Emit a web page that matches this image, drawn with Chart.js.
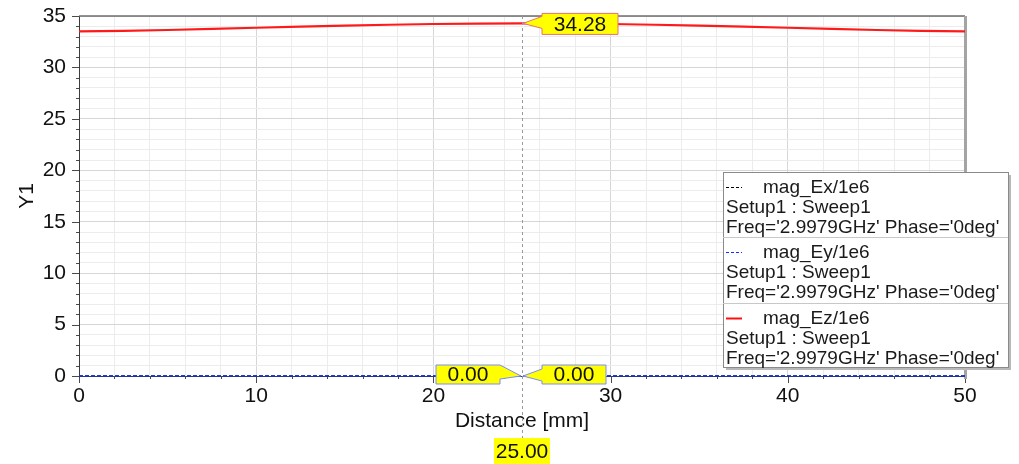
<!DOCTYPE html>
<html><head><meta charset="utf-8">
<script src="https://cdn.jsdelivr.net/npm/chart.js@4.4.1/dist/chart.umd.min.js"></script>
<style>html,body{margin:0;padding:0;background:#fff;overflow:hidden}#wrap{width:1019px;height:464px}</style>
</head><body><div id="wrap"><canvas id="c" width="1019" height="464"></canvas></div>
<script>
// ---- data ----
const distance = [0, 2.5, 5, 7.5, 10, 12.5, 15, 17.5, 20, 22.5, 25, 27.5, 30, 32.5, 35, 37.5, 40, 42.5, 45, 47.5, 50];
const magEz = [33.50, 33.55, 33.64, 33.74, 33.86, 33.97, 34.06, 34.15, 34.22, 34.26, 34.28, 34.26, 34.22, 34.15, 34.06, 33.97, 33.86, 33.74, 33.64, 33.55, 33.50];
const magEx = [0, 0, 0, 0, 0, 0, 0, 0, 0, 0, 0, 0, 0, 0, 0, 0, 0, 0, 0, 0, 0];
const magEy = [0, 0, 0, 0, 0, 0, 0, 0, 0, 0, 0, 0, 0, 0, 0, 0, 0, 0, 0, 0, 0];
const xTickLabels = [0, 10, 20, 30, 40, 50];
const yTickLabels = [0, 5, 10, 15, 20, 25, 30, 35];
const markerX = 25;
const seriesNames = ['mag_Ex/1e6', 'mag_Ey/1e6', 'mag_Ez/1e6'];
const setupText = 'Setup1 : Sweep1';
const freqText = "Freq='2.9979GHz' Phase='0deg'";
const xTitle = 'Distance [mm]';
const yTitle = 'Y1';

const FONT = "'Liberation Sans', Arial, sans-serif";
const pts = arr => distance.map((d, i) => ({x: d, y: arr[i]}));

function callout(ctx, px, py, text, side, border, big) {
  const w = big ? 76 : 64;
  const h = big ? 21 : 19;
  let L, R;
  const T = py - (big ? 10 : 11), B = T + h;
  ctx.save();
  ctx.beginPath();
  if (side === 'right') {
    L = px + 20; R = L + w;
    ctx.moveTo(L, T); ctx.lineTo(R, T); ctx.lineTo(R, B); ctx.lineTo(L, B);
    ctx.lineTo(L, py + 5); ctx.lineTo(px + 1, py); ctx.lineTo(L, py - 7);
  } else {
    R = px - 22; L = R - w;
    ctx.moveTo(R, T); ctx.lineTo(px - 1, py); ctx.lineTo(R, py + 3);
    ctx.lineTo(R, B); ctx.lineTo(L, B); ctx.lineTo(L, T);
  }
  ctx.closePath();
  ctx.fillStyle = '#ffff00'; ctx.fill();
  ctx.strokeStyle = border; ctx.lineWidth = 1; ctx.stroke();
  ctx.fillStyle = '#111'; ctx.font = '21px ' + FONT;
  ctx.textAlign = 'center'; ctx.textBaseline = 'middle';
  ctx.fillText(text, (L + R) / 2, (T + B) / 2 + 1);
  ctx.restore();
}

const overlay = {
  id: 'overlay',
  beforeDatasetsDraw(chart) {
    const {ctx, chartArea: a, scales: {x, y}} = chart;
    ctx.save();
    ctx.strokeStyle = '#4a4a4a'; ctx.lineWidth = 1;
    for (let v = 0; v <= 35; v++) {
      const py = Math.round(y.getPixelForValue(v)) + 0.5;
      const len = v % 5 === 0 ? 7 : 3;
      ctx.beginPath(); ctx.moveTo(a.left - len, py); ctx.lineTo(a.left, py); ctx.stroke();
    }
    for (let v = 0; v <= 50; v += 2) {
      const px = Math.round(x.getPixelForValue(v)) + 0.5;
      const len = v % 10 === 0 ? 7 : 3;
      ctx.beginPath(); ctx.moveTo(px, a.bottom); ctx.lineTo(px, a.bottom + len); ctx.stroke();
    }
    ctx.strokeStyle = '#6e6e6e'; ctx.lineWidth = 1.5;
    ctx.beginPath(); ctx.moveTo(a.left, a.top); ctx.lineTo(a.right, a.top); ctx.stroke();
    ctx.strokeStyle = '#a4a4a4'; ctx.lineWidth = 3;
    ctx.beginPath(); ctx.moveTo(a.right + 0.5, a.top); ctx.lineTo(a.right + 0.5, a.bottom + 3); ctx.stroke();
    ctx.restore();
  },
  afterDraw(chart) {
    const {ctx, chartArea: a, scales: {x, y}} = chart;
    const i = distance.indexOf(markerX);
    const mx = x.getPixelForValue(markerX);
    ctx.save();
    ctx.strokeStyle = '#9a9a9a'; ctx.lineWidth = 1; ctx.setLineDash([3, 3]);
    ctx.beginPath(); ctx.moveTo(Math.round(mx) + 0.5, a.top); ctx.lineTo(Math.round(mx) + 0.5, 438); ctx.stroke();
    ctx.restore();
    callout(ctx, mx, y.getPixelForValue(magEz[i]), magEz[i].toFixed(2), 'right', '#e87070', true);
    callout(ctx, mx, y.getPixelForValue(magEx[i]), magEx[i].toFixed(2), 'left', '#7a8cff', false);
    callout(ctx, mx, y.getPixelForValue(magEy[i]), magEy[i].toFixed(2), 'right', '#7a8cff', false);
    ctx.save();
    ctx.fillStyle = '#ffff00';
    ctx.fillRect(mx - 28, 438, 56, 26);
    ctx.fillStyle = '#111'; ctx.font = '21px ' + FONT;
    ctx.textAlign = 'center'; ctx.textBaseline = 'middle';
    ctx.fillText(markerX.toFixed(2), mx, 452);
    ctx.restore();
    const Lx = 723, Ly = 172, Lw = 285, Lh = 195, rowH = 65;
    ctx.save();
    ctx.fillStyle = '#b8b8b8'; ctx.fillRect(Lx + 3, Ly + 3, Lw, Lh);
    ctx.fillStyle = '#ffffff'; ctx.fillRect(Lx, Ly, Lw, Lh);
    ctx.strokeStyle = '#8a8a8a'; ctx.lineWidth = 1;
    ctx.strokeRect(Lx + 0.5, Ly + 0.5, Lw, Lh);
    ctx.strokeStyle = '#c8c8c8';
    for (let r = 1; r < 3; r++) {
      const sy = Math.round(Ly + r * rowH + (r === 2 ? 1 : 0)) + 0.5;
      ctx.beginPath(); ctx.moveTo(Lx, sy); ctx.lineTo(Lx + Lw, sy); ctx.stroke();
    }
    const styles = [
      {c: '#000000', dash: [3, 2], w: 1},
      {c: '#1030ff', dash: [3, 2], w: 1},
      {c: '#ff1010', dash: [], w: 2}
    ];
    ctx.font = '19px ' + FONT; ctx.textBaseline = 'middle'; ctx.textAlign = 'left';
    for (let r = 0; r < 3; r++) {
      const top = Ly + r * rowH + (r === 2 ? 1 : 0);
      const ly = top + 14.5;
      ctx.save();
      ctx.strokeStyle = styles[r].c; ctx.lineWidth = styles[r].w; ctx.setLineDash(styles[r].dash);
      ctx.beginPath(); ctx.moveTo(726, Math.round(ly) + 0.5); ctx.lineTo(742, Math.round(ly) + 0.5); ctx.stroke();
      ctx.restore();
      ctx.fillStyle = '#1a1a1a';
      ctx.fillText(seriesNames[r], 763, ly + 1);
      ctx.fillText(setupText, 726, ly + 21);
      ctx.fillText(freqText, 726, ly + 41);
    }
    ctx.restore();
  }
};

new Chart(document.getElementById('c'), {
  type: 'line',
  data: {
    datasets: [
      {label: seriesNames[0], data: pts(magEx), borderColor: '#000000', borderWidth: 1.5, borderDash: [4, 2], pointRadius: 0, order: 3, clip: 4},
      {label: seriesNames[1], data: pts(magEy), borderColor: '#1a3cff', borderWidth: 1.5, borderDash: [4, 2], pointRadius: 0, order: 2, clip: 4},
      {label: seriesNames[2], data: pts(magEz), borderColor: '#ff1a1a', borderWidth: 2.2, pointRadius: 0, order: 1, clip: 4}
    ]
  },
  options: {
    responsive: false, animation: false, devicePixelRatio: 1,
    layout: {padding: {left: 8, right: 54, top: 16, bottom: 26}},
    plugins: {legend: {display: false}, tooltip: {enabled: false}},
    scales: {
      x: {
        type: 'linear', min: 0, max: 50,
        afterBuildTicks: s => { s.ticks = []; for (let v = 0; v <= 50; v += 2) s.ticks.push({value: v}); },
        afterFit: s => { s.height = 62; },
        ticks: {autoSkip: false, maxRotation: 0, padding: 8, color: '#111', font: {family: FONT, size: 21},
          callback: v => xTickLabels.includes(v) ? String(v) : ''},
        grid: {drawTicks: false, color: c => (c.tick && c.tick.value % 10 === 0) ? '#d6d6d6' : '#ececec', lineWidth: 1},
        border: {display: true, color: '#3c3c3c', width: 1},
        title: {display: true, text: xTitle, color: '#111', font: {family: FONT, size: 21}, padding: {top: 0, bottom: 4}}
      },
      y: {
        type: 'linear', min: 0, max: 35,
        afterBuildTicks: s => { s.ticks = []; for (let v = 0; v <= 35; v++) s.ticks.push({value: v}); },
        afterFit: s => { s.width = 71; },
        ticks: {autoSkip: false, padding: 0, color: '#111', font: {family: FONT, size: 21},
          callback: v => yTickLabels.includes(v) ? String(v) : ''},
        grid: {drawTicks: true, tickLength: 13, tickColor: 'rgba(0,0,0,0)', color: c => (c.tick && c.tick.value % 5 === 0) ? '#d6d6d6' : '#ececec', lineWidth: 1},
        border: {display: true, color: '#3c3c3c', width: 1},
        title: {display: true, text: yTitle, color: '#111', font: {family: FONT, size: 21}, padding: {top: 7, bottom: 0}}
      }
    }
  },
  plugins: [overlay]
});
</script>
</body></html>
